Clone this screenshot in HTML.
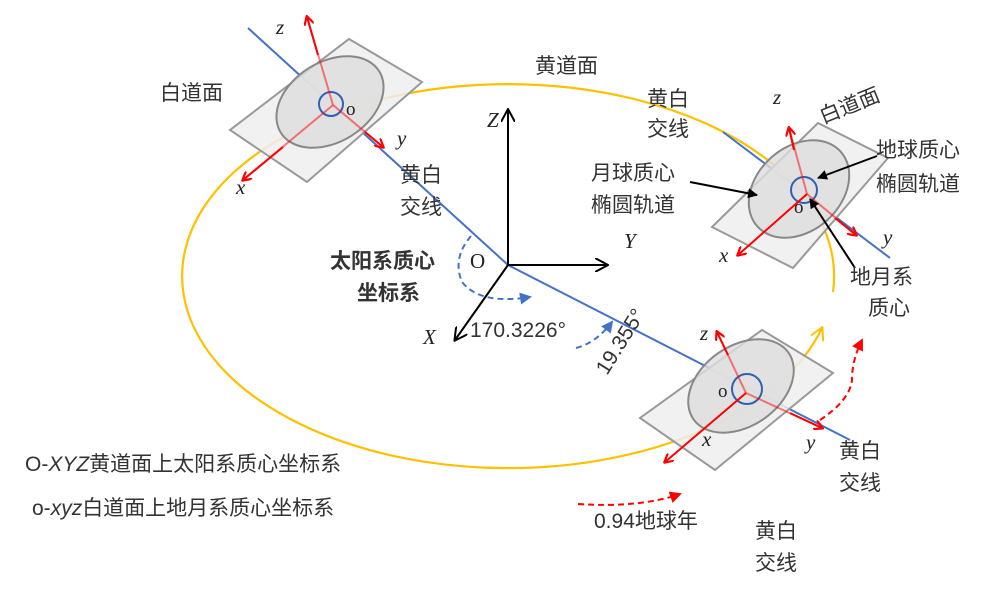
<!DOCTYPE html>
<html><head><meta charset="utf-8"><style>
html,body{margin:0;padding:0;background:#fff;}
svg{display:block;}
text{font-family:"Liberation Serif","Noto Serif CJK SC","Noto Sans CJK SC",serif;fill:#222;}
.c{font-family:"Liberation Sans","Noto Sans CJK SC",sans-serif;font-size:21px;fill:#333;}
.i{font-family:"Liberation Serif",serif;font-style:italic;font-size:21px;fill:#222;}
</style></head><body>
<svg width="1000" height="597" viewBox="0 0 1000 597" xmlns="http://www.w3.org/2000/svg">
<defs>
<marker id="ar" markerWidth="10" markerHeight="10" refX="8" refY="5" orient="auto" markerUnits="userSpaceOnUse"><path d="M0,0 L9,5 L0,10" fill="none" stroke="#f00" stroke-width="2.2"/></marker>
<marker id="ab" markerWidth="14" markerHeight="14" refX="12" refY="7" orient="auto" markerUnits="userSpaceOnUse"><path d="M0,0 L13,7 L0,14" fill="none" stroke="#000" stroke-width="2"/></marker>
<marker id="ay" markerWidth="14" markerHeight="14" refX="12" refY="7" orient="auto" markerUnits="userSpaceOnUse"><path d="M0,0 L13,7 L0,14" fill="none" stroke="#FFC000" stroke-width="2"/></marker>
<marker id="abf" markerWidth="10" markerHeight="10" refX="9" refY="5" orient="auto" markerUnits="userSpaceOnUse"><path d="M0,0 L10,5 L0,10 Z" fill="#000"/></marker>
<marker id="blf" markerWidth="12" markerHeight="12" refX="10" refY="6" orient="auto" markerUnits="userSpaceOnUse"><path d="M0,0 L12,6 L0,12 Z" fill="#4472C4"/></marker>
<marker id="rdf" markerWidth="12" markerHeight="12" refX="10" refY="6" orient="auto" markerUnits="userSpaceOnUse"><path d="M0,0 L12,6 L0,12 Z" fill="#f00"/></marker>
</defs>

<!-- orbit -->
<path d="M833,292 A326,192 0 1 0 822,328" fill="none" stroke="#FFC000" stroke-width="2.2" marker-end="url(#ay)"/>

<!-- blue node line -->
<polyline points="248,28 508,265 850,440" fill="none" stroke="#4472C4" stroke-width="2"/>
<line x1="723" y1="132" x2="890" y2="258" stroke="#4472C4" stroke-width="2"/>

<!-- planes -->
<g>
<polygon points="349,39 422,82 307,182 230,130" fill="#eee" fill-opacity="0.85" stroke="#999" stroke-width="2"/>
<ellipse cx="330" cy="102" rx="58" ry="40" transform="rotate(-32 330 102)" fill="#ddd" fill-opacity="0.8" stroke="#888" stroke-width="2"/>
<circle cx="331" cy="104" r="12" fill="none" stroke="#3060B0" stroke-width="2"/>
<line x1="333" y1="105" x2="307" y2="17" stroke="#f00" stroke-width="2" stroke-opacity="0.5"/>
<line x1="318" y1="55" x2="307" y2="17" stroke="#f00" stroke-width="2" marker-end="url(#ar)"/>
<line x1="333" y1="105" x2="383" y2="147" stroke="#f00" stroke-width="2" stroke-opacity="0.5"/>
<line x1="365" y1="132" x2="383" y2="147" stroke="#f00" stroke-width="2" marker-end="url(#ar)"/>
<line x1="333" y1="105" x2="243" y2="180" stroke="#f00" stroke-width="2" stroke-opacity="0.5"/>
<line x1="283" y1="147" x2="243" y2="180" stroke="#f00" stroke-width="2" marker-end="url(#ar)"/>
</g>
<g>
<polygon points="818,123 888,158 793,268 712,227" fill="#eee" fill-opacity="0.85" stroke="#999" stroke-width="2"/>
<ellipse cx="799" cy="189" rx="56" ry="42" transform="rotate(-42 799 189)" fill="#ddd" fill-opacity="0.8" stroke="#888" stroke-width="2"/>
<circle cx="804" cy="190" r="13" fill="none" stroke="#3060B0" stroke-width="2"/>
<line x1="807" y1="194" x2="789" y2="128" stroke="#f00" stroke-width="2" stroke-opacity="0.5"/>
<line x1="794" y1="150" x2="789" y2="128" stroke="#f00" stroke-width="2" marker-end="url(#ar)"/>
<line x1="807" y1="194" x2="856" y2="235" stroke="#f00" stroke-width="2" stroke-opacity="0.5"/>
<line x1="835" y1="218" x2="856" y2="235" stroke="#f00" stroke-width="2" marker-end="url(#ar)"/>
<line x1="807" y1="194" x2="738" y2="255" stroke="#f00" stroke-width="2" marker-end="url(#ar)"/>
</g>
<g>
<polygon points="762,330 833,373 715,470 640,418" fill="#eee" fill-opacity="0.85" stroke="#999" stroke-width="2"/>
<ellipse cx="741" cy="386" rx="58" ry="40" transform="rotate(-35 741 386)" fill="#ddd" fill-opacity="0.8" stroke="#888" stroke-width="2"/>
<circle cx="747" cy="389" r="15" fill="none" stroke="#3060B0" stroke-width="2"/>
<line x1="746" y1="393" x2="717" y2="332" stroke="#f00" stroke-width="2" stroke-opacity="0.5"/>
<line x1="728" y1="355" x2="717" y2="332" stroke="#f00" stroke-width="2" marker-end="url(#ar)"/>
<line x1="746" y1="393" x2="822" y2="428" stroke="#f00" stroke-width="2" stroke-opacity="0.5"/>
<line x1="790" y1="413" x2="822" y2="428" stroke="#f00" stroke-width="2" marker-end="url(#ar)"/>
<line x1="746" y1="393" x2="665" y2="462" stroke="#f00" stroke-width="2" marker-end="url(#ar)"/>
</g>

<!-- main axes -->
<line x1="508" y1="265" x2="508" y2="110" stroke="#000" stroke-width="2" marker-end="url(#ab)"/>
<line x1="508" y1="265" x2="607" y2="265" stroke="#000" stroke-width="2" marker-end="url(#ab)"/>
<line x1="508" y1="265" x2="455" y2="340" stroke="#000" stroke-width="2" marker-end="url(#ab)"/>

<!-- blue dashed arcs -->
<path d="M471,236 Q452,258 462,282 Q480,305 530,297" fill="none" stroke="#4472C4" stroke-width="2" stroke-dasharray="6,4" marker-end="url(#blf)"/>
<path d="M576,348 Q596,343 612,322" fill="none" stroke="#4472C4" stroke-width="2" stroke-dasharray="6,4" marker-end="url(#blf)"/>

<!-- red dashed arrows -->
<path d="M820,420 Q850,400 852,380 Q852,360 862,340" fill="none" stroke="#f00" stroke-width="2" stroke-dasharray="6,4" marker-end="url(#rdf)"/>
<path d="M578,504 Q640,508 680,494" fill="none" stroke="#f00" stroke-width="2" stroke-dasharray="6,4" marker-end="url(#rdf)"/>

<!-- black callouts -->
<line x1="690" y1="182" x2="757" y2="195" stroke="#000" stroke-width="2" marker-end="url(#abf)"/>
<line x1="877" y1="156" x2="818" y2="178" stroke="#000" stroke-width="2" marker-end="url(#abf)"/>
<line x1="855" y1="268" x2="810" y2="199" stroke="#000" stroke-width="2" marker-end="url(#abf)"/>

<!-- small labels -->
<text class="i" x="276" y="34">z</text>
<text class="i" x="397" y="145">y</text>
<text class="i" x="236" y="194">x</text>
<text x="346" y="115" font-size="19">o</text>
<text class="i" x="773" y="104">z</text>
<text class="i" x="883" y="244">y</text>
<text class="i" x="719" y="262">x</text>
<text x="794" y="213" font-size="19">o</text>
<text class="i" x="700" y="340">z</text>
<text class="i" x="806" y="449">y</text>
<text class="i" x="702" y="446">x</text>
<text x="718" y="397" font-size="19">o</text>
<text class="i" x="487" y="127">Z</text>
<text class="i" x="624" y="248">Y</text>
<text class="i" x="423" y="344">X</text>
<text x="470" y="268" font-size="21">O</text>

<text class="c" x="470" y="337">170.3226°</text>
<text class="c" transform="translate(607,376) rotate(-58)">19.355°</text>

<!-- CJK labels -->
<text class="c" x="160" y="100">白道面</text>
<text class="c" x="535" y="73">黄道面</text>
<text class="c" x="400" y="182">黄白</text>
<text class="c" x="400" y="214">交线</text>
<text class="c" x="647" y="106">黄白</text>
<text class="c" x="647" y="136">交线</text>
<text class="c" transform="translate(823,124) rotate(-22)">白道面</text>
<text class="c" x="591" y="180">月球质心</text>
<text class="c" x="591" y="212">椭圆轨道</text>
<text class="c" x="876" y="157">地球质心</text>
<text class="c" x="876" y="191">椭圆轨道</text>
<text class="c" x="850" y="284">地月系</text>
<text class="c" x="868" y="315">质心</text>
<text class="c" x="330" y="268" font-weight="bold" fill="#222">太阳系质心</text>
<text class="c" x="357" y="300" font-weight="bold" fill="#222">坐标系</text>
<text class="c" x="839" y="458">黄白</text>
<text class="c" x="839" y="490">交线</text>
<text class="c" x="755" y="538">黄白</text>
<text class="c" x="755" y="570">交线</text>
<text class="c" x="594" y="528">0.94地球年</text>
<text class="c" x="25" y="471">O-<tspan font-style="italic">XYZ</tspan>黄道面上太阳系质心坐标系</text>
<text class="c" x="32" y="515">o-<tspan font-style="italic">xyz</tspan>白道面上地月系质心坐标系</text>
</svg>
</body></html>
